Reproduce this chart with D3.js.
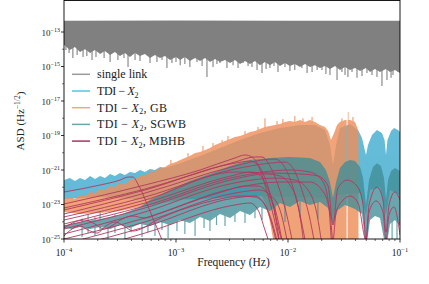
<!DOCTYPE html>
<html><head><meta charset="utf-8">
<script src="https://cdn.jsdelivr.net/npm/d3@7"></script>
<style>body{margin:0;background:#fff}svg{display:block}text{font-family:"Liberation Serif",serif;fill:#222}</style>
</head><body><svg id="c" width="429" height="284"></svg>
<script>
// ---------------- data (frequency in Hz, ASD in Hz^-1/2) ----------------
const xTicks = [1e-4, 1e-3, 1e-2, 1e-1];
const xTickExp = ["−4", "−3", "−2", "−1"];
const yTicks = [1e-25, 1e-23, 1e-21, 1e-19, 1e-17, 1e-15, 1e-13];
const yTickExp = ["−25", "−23", "−21", "−19", "−17", "−15", "−13"];
const legendLabels = ["single link", "TDI−X2", "TDI−X2, GB", "TDI−X2, SGWB", "TDI−X2, MBHB"];

const grayUpper = [[1e-4,4.5e-13],[1e-3,4.6e-13],[1e-2,4.5e-13],[1e-1,4.5e-13]];
const grayLower = [[1e-4,1.8e-14],[1.13e-4,9.1e-15],[1.25e-4,1.35e-14],[1.39e-4,6.9e-15],[1.54e-4,1e-14],[1.71e-4,6.1e-15],[1.89e-4,9.1e-15],[2.1e-4,5.3e-15],[2.32e-4,7.9e-15],[2.58e-4,4.6e-15],[2.85e-4,6.9e-15],[3.16e-4,4.1e-15],[3.5e-4,6.1e-15],[3.88e-4,3.6e-15],[4.31e-4,6.1e-15],[4.77e-4,4.1e-15],[5.28e-4,5.3e-15],[5.86e-4,3.1e-15],[6.49e-4,4.6e-15],[7.2e-4,3.1e-15],[7.98e-4,4.1e-15],[8.84e-4,2.4e-15],[1e-3,3.6e-15],[1.09e-3,2.4e-15],[1.2e-3,3.6e-15],[1.33e-3,2.1e-15],[1.48e-3,3.1e-15],[1.64e-3,2.1e-15],[1.82e-3,3.1e-15],[2.01e-3,1.8e-15],[2.23e-3,2.7e-15],[2.47e-3,1.8e-15],[2.74e-3,2.4e-15],[3.04e-3,1.6e-15],[3.36e-3,2.4e-15],[3.73e-3,1.4e-15],[4.13e-3,2.1e-15],[4.58e-3,1.4e-15],[5.07e-3,2.1e-15],[5.62e-3,1.2e-15],[6.23e-3,1.8e-15],[6.9e-3,1.2e-15],[7.65e-3,1.8e-15],[8.48e-3,1.07e-15],[9.4e-3,1.6e-15],[1.04e-2,1.07e-15],[1.15e-2,1.4e-15],[1.28e-2,9.4e-16],[1.42e-2,1.4e-15],[1.57e-2,9.4e-16],[1.74e-2,1.2e-15],[1.93e-2,8.2e-16],[2.14e-2,1.07e-15],[2.37e-2,7.2e-16],[2.63e-2,1.07e-15],[2.91e-2,6.3e-16],[3.23e-2,9.4e-16],[3.58e-2,6.3e-16],[3.97e-2,8.2e-16],[4.4e-2,5.5e-16],[4.97e-2,8.2e-16],[5.4e-2,4.8e-16],[5.98e-2,7.2e-16],[6.63e-2,4.8e-16],[7.5e-2,7.2e-16],[8.14e-2,4.8e-16],[9.02e-2,6.3e-16],[1e-1,4.2e-16]];
const grayDips = [[1.04e-4,9.1e-15],[1.11e-4,6.1e-15],[1.2e-4,3.1e-15],[1.31e-4,4.6e-15],[1.48e-4,3.6e-15],[1.6e-4,4.1e-15],[1.78e-4,2.4e-15],[1.93e-4,3.6e-15],[2.28e-4,3.1e-15],[2.58e-4,1.8e-15],[3.03e-4,2.4e-15],[3.43e-4,3.1e-15],[3.73e-4,9.4e-16],[4.31e-4,2.4e-15],[4.77e-4,2.1e-15],[5.86e-4,1.6e-15],[6.76e-4,1.8e-15],[7.5e-4,2.4e-15],[8.3e-4,8.2e-16],[9.2e-4,1.6e-15],[1e-3,1.8e-15],[1.09e-3,1.2e-15],[1.2e-3,1.4e-15],[1.33e-3,9.4e-16],[1.54e-3,1.8e-15],[1.71e-3,1.07e-15],[1.89e-3,2.5e-16],[2.14e-3,9.4e-16],[2.32e-3,1.4e-15],[2.47e-3,1.6e-15],[2.85e-3,8.2e-16],[3.23e-3,1.2e-15],[3.58e-3,8.2e-16],[3.97e-3,1.6e-15],[4.4e-3,1.07e-15],[4.77e-3,9.4e-16],[5.29e-3,6.3e-16],[5.86e-3,4.2e-16],[6.37e-3,7.2e-16],[6.9e-3,8.2e-16],[7.5e-3,1.07e-15],[8.14e-3,4.8e-16],[9.4e-3,9.4e-16],[1.04e-2,5.5e-16],[1.15e-2,6.3e-16],[1.33e-2,8.2e-16],[1.48e-2,4.2e-16],[1.64e-2,4.8e-16],[1.82e-2,6.3e-16],[2.01e-2,6.3e-16],[2.18e-2,3.7e-16],[2.37e-2,3.2e-16],[2.74e-2,1.65e-16],[3.03e-2,4.8e-16],[3.23e-2,3.2e-16],[3.43e-2,2.5e-16],[3.73e-2,4.8e-16],[4.13e-2,2.2e-16],[4.58e-2,2.8e-16],[5.07e-2,4.2e-16],[5.62e-2,3.2e-16],[6.23e-2,2.5e-16],[6.9e-2,7.4e-17],[7.65e-2,1.65e-16],[8.32e-2,2.2e-16],[8.66e-2,3.2e-16],[9.6e-2,4.8e-16]];

const tdiUpper = [[1e-4,2.6e-22],[1.13e-4,3.4e-22],[1.25e-4,2.3e-22],[1.39e-4,3.4e-22],[1.54e-4,2.6e-22],[1.71e-4,4.5e-22],[1.89e-4,3.0e-22],[2.1e-4,4.5e-22],[2.32e-4,3.4e-22],[2.58e-4,5.9e-22],[2.85e-4,4.5e-22],[3.16e-4,6.7e-22],[3.5e-4,5.1e-22],[3.88e-4,7.6e-22],[4.31e-4,6.7e-22],[4.77e-4,1e-21],[5.28e-4,7.6e-22],[5.86e-4,1.14e-21],[6.49e-4,1e-21],[7.2e-4,1.5e-21],[7.98e-4,1.3e-21],[1.09e-3,2.5e-21],[1.64e-3,6.5e-21],[2.47e-3,1.9e-20],[3.73e-3,5.5e-20],[5.62e-3,1.4e-19],[8.48e-3,2.7e-19],[1.28e-2,4.1e-19],[1.74e-2,4.1e-19],[2.14e-2,2.1e-19],[2.37e-2,2.8e-20],[2.52e-2,1.95e-21],[2.69e-2,2.8e-20],[2.91e-2,2.7e-19],[3.58e-2,4.6e-19],[4.22e-2,2.1e-19],[4.58e-2,7.2e-20],[4.97e-2,7.4e-21],[5.18e-2,2.8e-20],[5.62e-2,1.07e-19],[6.23e-2,2.1e-19],[6.9e-2,1.4e-19],[7.28e-2,5.5e-20],[7.5e-2,7.4e-21],[7.73e-2,5.5e-20],[8.32e-2,1.82e-19],[8.84e-2,2.7e-19],[9.6e-2,2.1e-19],[1e-1,1.6e-19]];
const tdiLower = [[1e-4,2.1e-23],[2.1e-4,2.7e-23],[5.86e-4,1.8e-23],[1.64e-3,2.1e-23],[4.58e-3,3.1e-23],[1.28e-2,2.7e-23],[2.28e-2,2.4e-23],[2.52e-2,2.5e-24],[2.79e-2,3.6e-23],[4.4e-2,4.6e-23],[4.97e-2,2.5e-24],[5.4e-2,6.9e-23],[6.63e-2,1e-22],[7.5e-2,2.5e-24],[8.14e-2,6.9e-23],[1e-1,3.6e-23]];

const gbUpper = [[1e-4,2.1e-23],[1.13e-4,2.7e-23],[1.25e-4,2.1e-23],[1.39e-4,3.6e-23],[1.54e-4,3.1e-23],[1.71e-4,5.3e-23],[1.89e-4,4.6e-23],[2.1e-4,7.9e-23],[2.32e-4,6.9e-23],[2.58e-4,1.18e-22],[2.85e-4,1e-22],[3.16e-4,1.8e-22],[3.5e-4,1.5e-22],[3.88e-4,2.6e-22],[4.31e-4,3.0e-22],[4.77e-4,4.5e-22],[5.28e-4,5.1e-22],[5.86e-4,6.7e-22],[6.49e-4,8.7e-22],[7.2e-4,1.3e-21],[7.98e-4,1.5e-21],[8.84e-4,2.2e-21],[1e-3,2.9e-21],[1.09e-3,3.8e-21],[1.2e-3,5e-21],[1.33e-3,6.5e-21],[1.48e-3,9.7e-21],[1.64e-3,1.1e-20],[1.82e-3,1.44e-20],[2.01e-3,1.9e-20],[2.23e-3,2.8e-20],[2.47e-3,3.7e-20],[2.74e-3,4.8e-20],[3.04e-3,6.3e-20],[3.36e-3,8.2e-20],[3.73e-3,9.4e-20],[4.13e-3,1.2e-19],[4.58e-3,1.6e-19],[5.07e-3,1.82e-19],[5.62e-3,2.4e-19],[6.23e-3,3.1e-19],[6.9e-3,3.6e-19],[7.65e-3,4.1e-19],[8.48e-3,4.6e-19],[9.4e-3,6e-19],[1.04e-2,6.9e-19],[1.15e-2,6e-19],[1.28e-2,7.9e-19],[1.42e-2,6e-19],[1.57e-2,7.9e-19],[1.74e-2,6e-19],[1.93e-2,4.1e-19],[2.14e-2,3.1e-19],[2.28e-2,1.82e-19],[2.42e-2,5.5e-20],[2.58e-2,1.4e-19],[2.74e-2,4.1e-19],[2.91e-2,6e-19],[3.23e-2,7.9e-19],[3.58e-2,7.9e-19],[3.97e-2,6e-19],[4.13e-2,3.1e-19],[4.26e-2,1.6e-19]];
const gbLower = [[1e-4,3.7e-24],[1.39e-4,2.8e-24],[2.1e-4,3.2e-24],[3.16e-4,4.2e-24],[5.86e-4,9.4e-24],[1.09e-3,1.8e-23],[2.01e-3,4.6e-23],[3.73e-3,1.35e-22],[5.62e-3,5.3e-23],[6.37e-3,9.4e-24],[6.9e-3,9.7e-25],[7.65e-3,2.3e-26],[4.26e-2,2.3e-26]];
const gbSpikes = [[5.86e-4,1e-21],[9.0e-4,3.8e-21],[1.28e-3,9.7e-21],[1.74e-3,2.5e-20],[2.14e-3,3.7e-20],[2.58e-3,5.5e-20],[2.91e-3,9.4e-20],[4.13e-3,1.82e-19],[5.4e-3,3.1e-19],[6.23e-3,1e-18],[7.98e-3,6.9e-19],[9.0e-3,9.1e-19],[1.15e-2,1.35e-18],[1.36e-2,1e-18],[1.64e-2,1.18e-18],[3.03e-2,1e-18],[3.43e-2,2.3e-18],[3.8e-2,1.18e-18]];
const gbGapFreq = [3.37e-2];

const sgwbUpper = [[1e-4,5.7e-25],[1.39e-4,9.7e-25],[2.1e-4,1.44e-24],[3.16e-4,2.5e-24],[4.77e-4,7.2e-24],[5.86e-4,1.8e-23],[8.84e-4,6.9e-23],[1.33e-3,2.3e-22],[2.01e-3,5.9e-22],[3.04e-3,1.7e-21],[4.58e-3,3.8e-21],[6.9e-3,5e-21],[1.04e-2,5.7e-21],[1.57e-2,5e-21],[1.93e-2,2.9e-21],[2.18e-2,1e-21],[2.37e-2,2e-22],[2.52e-2,2.4e-23],[2.69e-2,2e-22],[2.91e-2,1.3e-21],[3.23e-2,2.9e-21],[3.58e-2,3.8e-21],[3.97e-2,3.3e-21],[4.4e-2,1.5e-21],[4.68e-2,3.4e-22],[4.97e-2,9.4e-24],[5.29e-2,2.6e-22],[5.74e-2,1.5e-21],[6.23e-2,2.5e-21],[6.76e-2,1.7e-21],[7.2e-2,3.4e-22],[7.5e-2,1.8e-23],[7.82e-2,2.6e-22],[8.32e-2,8.7e-22],[9.02e-2,1.3e-21],[1e-1,8.7e-22]];
const sgwbLower = [[1e-4,4.3e-25],[1.18e-4,3.8e-25],[1.39e-4,5e-25],[1.71e-4,3.8e-25],[2.1e-4,5e-25],[2.58e-4,3.8e-25],[3.16e-4,6.5e-25],[3.88e-4,4.3e-25],[4.77e-4,7.4e-25],[5.86e-4,5.7e-25],[7.2e-4,9.7e-25],[8.84e-4,6.5e-25],[1.09e-3,1.26e-24],[1.33e-3,8.5e-25],[1.64e-3,1.9e-24],[2.01e-3,1.1e-24],[2.47e-3,2.8e-24],[3.04e-3,1.65e-24],[3.73e-3,4.2e-24],[4.58e-3,2.5e-24],[5.62e-3,7.2e-24],[6.9e-3,4.2e-24],[8.48e-3,1.22e-23],[1.04e-2,7.2e-24],[1.28e-2,1.6e-23],[1.57e-2,9.4e-24],[1.93e-2,1.4e-23],[2.28e-2,6.3e-24],[2.52e-2,6.5e-25],[2.79e-2,4.8e-24],[3.23e-2,9.4e-24],[3.97e-2,5.5e-24],[4.58e-2,2.8e-24],[4.97e-2,2.3e-26],[5.4e-2,1.26e-24],[5.98e-2,2.15e-24],[6.63e-2,1.65e-24],[7.5e-2,2.3e-26],[8.14e-2,7.4e-25],[9.02e-2,1.26e-24],[1e-1,5.7e-25]];
const sgwbDips = [[1.45e-4,1.3e-25],[1.64e-4,2.2e-25],[1.89e-4,1.5e-25],[2.1e-4,2.9e-25],[2.47e-4,1e-25],[2.85e-4,2.2e-25],[3.5e-4,1e-25],[3.97e-4,2.5e-25],[4.97e-4,1.3e-25],[5.62e-4,2.5e-25],[6.49e-4,1.5e-25],[7.5e-4,3.3e-25],[8.5e-4,1.14e-25],[1.02e-3,2.9e-25],[1.2e-3,1.95e-25],[1.48e-3,1.5e-25],[1.78e-3,4.3e-25],[2.01e-3,2.9e-25],[2.3e-3,6.5e-25],[2.74e-3,5.7e-25],[3.36e-3,9.7e-25],[4.13e-3,8.5e-25],[5.07e-3,1.6e-24],[5.86e-3,1.26e-24],[7.65e-3,2.5e-24],[9.4e-3,9.7e-25],[1.28e-2,1.65e-24],[1.85e-2,1.44e-24],[8.5e-2,1e-25],[9.4e-2,1e-25]];

const mbhbTracks = [
 [[1e-4,5.3e-23],[2.1e-4,1.35e-22],[3.16e-4,2.6e-22],[3.73e-4,3.9e-22],[4.13e-4,3.9e-22],[4.58e-4,1.5e-22],[5.28e-4,2.1e-23],[6.1e-4,2.15e-24],[6.9e-4,3.3e-25],[7.82e-4,4.5e-26]],
 [[1e-4,1.07e-23],[5.28e-4,1.35e-22],[1.64e-3,1e-21],[3.36e-3,5e-21],[4.13e-3,7.4e-21],[4.77e-3,5.7e-21],[5.51e-3,1.5e-21],[6.23e-3,1.35e-22],[7.2e-3,4.8e-24],[8.48e-3,4.5e-26]],
 [[1e-4,6.3e-24],[5.28e-4,7.9e-23],[3.36e-3,2.9e-21],[5.07e-3,5.7e-21],[5.86e-3,5.7e-21],[6.9e-3,1.7e-21],[8.14e-3,1.35e-22],[9.6e-3,3.7e-24],[1.11e-2,4.5e-26]],
 [[1e-4,4.8e-24],[5.28e-4,6.9e-23],[3.36e-3,2.5e-21],[4.58e-3,3.3e-21],[5.4e-3,1.95e-21],[6.23e-3,3.4e-22],[7.2e-3,1.8e-23],[8.3e-3,3.3e-25],[9e-3,4.5e-26]],
 [[1e-4,2.8e-24],[5.28e-4,4.6e-23],[3.36e-3,1.7e-21],[5.86e-3,3.8e-21],[7.65e-3,4.3e-21],[9.2e-3,1.7e-21],[1.09e-2,1.35e-22],[1.25e-2,4.8e-24],[1.45e-2,4.5e-26]],
 [[1e-4,1.9e-24],[5.28e-4,2.7e-23],[3.36e-3,1.14e-21],[6.9e-3,2.5e-21],[9.4e-3,2.9e-21],[1.13e-2,1e-21],[1.33e-2,6.9e-23],[1.54e-2,2.5e-24],[1.74e-2,4.5e-26]],
 [[1e-4,1.26e-24],[5.28e-4,1.8e-23],[3.36e-3,7.6e-22],[6.9e-3,6.7e-22],[1.28e-2,5.9e-22],[1.85e-2,4.5e-22],[2.28e-2,1.18e-22],[2.52e-2,6.5e-25],[2.79e-2,9e-23],[3.37e-2,2.6e-22],[4.13e-2,1.18e-22],[4.68e-2,9.4e-24],[4.97e-2,8.8e-26],[5.29e-2,9.4e-24],[6.23e-2,1e-22],[7.05e-2,1.8e-23],[7.5e-2,2.5e-25],[7.98e-2,9.4e-24],[9.02e-2,5.3e-23],[1e-1,1.8e-23]],
 [[1e-4,7.4e-25],[5.28e-4,1.22e-23],[3.36e-3,5.1e-22],[4.58e-3,7.6e-22],[5.4e-3,5.9e-22],[6.37e-3,1.35e-22],[7.34e-3,9.4e-24],[8.48e-3,4.5e-26]],
 [[1e-4,5.7e-25],[5.28e-4,8.2e-24],[3.36e-3,3.9e-22],[1.04e-2,1e-21],[1.57e-2,7.6e-22],[2.01e-2,2.6e-22],[2.28e-2,1.8e-23],[2.45e-2,4.5e-26]],
 [[1e-4,3.8e-25],[5.28e-4,6.3e-24],[3.36e-3,3e-22],[6.23e-3,5.9e-22],[8.48e-3,4.5e-22],[1.04e-2,1.35e-22],[1.23e-2,9.4e-24],[1.39e-2,4.5e-26]],
 [[1e-4,1.95e-25],[5.28e-4,3.7e-24],[3.36e-3,1.8e-22],[7.65e-3,3.4e-22],[1.15e-2,2.6e-22],[1.51e-2,6.9e-23],[1.78e-2,4.8e-24],[2.01e-2,4.5e-26]],
 [[1e-4,1e-25],[5.28e-4,1.65e-24],[3.36e-3,9e-23],[8.48e-3,2e-22],[1.57e-2,2e-22],[2.01e-2,6.9e-23],[2.37e-2,3.7e-24],[2.52e-2,8.8e-26],[2.69e-2,3.7e-24],[3.1e-2,1.8e-23],[3.58e-2,3.1e-23],[4.22e-2,1.22e-23],[4.97e-2,8.8e-26],[5.29e-2,3.7e-24],[6.11e-2,1.6e-23],[7.05e-2,3.7e-24],[7.5e-2,8.8e-26],[7.98e-2,2.5e-24],[8.84e-2,7.2e-24],[1e-1,1.7e-25]],
 [[1e-4,5.1e-26],[5.28e-4,9.7e-25],[3.36e-3,4.6e-23],[5.62e-3,6.9e-23],[6.9e-3,3.6e-23],[8.48e-3,4.8e-24],[1e-2,4.5e-26]],
 [[1e-4,2.6e-26],[5.28e-4,5e-25],[3.36e-3,2.4e-23],[5.07e-3,3.1e-23],[6.23e-3,9.4e-24],[7.2e-3,6.5e-25],[7.98e-3,4.5e-26]],
 [[1e-4,1e-26],[5.28e-4,2.2e-25],[3.36e-3,9.4e-24],[4.58e-3,1.22e-23],[5.4e-3,4.8e-24],[6.23e-3,3.3e-25],[6.9e-3,4.5e-26]],
 [[1e-4,1.5e-25],[1.18e-4,3.8e-25],[1.39e-4,5.7e-25],[1.64e-4,3.3e-25],[1.97e-4,2.2e-25],[2.37e-4,5.7e-25],[2.85e-4,9.7e-25],[3.43e-4,5.7e-25],[4.13e-4,2.9e-25],[5.07e-4,4.3e-25],[6.49e-4,1.1e-24],[8.84e-4,2.8e-24],[1.33e-3,7.2e-24],[2.23e-3,1.8e-23],[3.73e-3,3.1e-23],[5.07e-3,2.7e-23],[6.23e-3,9.4e-24],[7.2e-3,9.7e-25],[8.14e-3,4.5e-26]],
 [[1e-4,4.3e-25],[1.25e-4,9.7e-25],[1.54e-4,1.26e-24],[1.89e-4,7.4e-25],[2.28e-4,3.8e-25],[2.74e-4,6.5e-25],[3.3e-4,1.44e-24],[4.05e-4,2.15e-24],[5.28e-4,1.65e-24],[6.9e-4,2.8e-24],[9.8e-4,6.3e-24],[1.64e-3,2.1e-23],[2.74e-3,6.1e-23],[4.13e-3,1.18e-22],[5.4e-3,1.18e-22],[6.62e-3,4.1e-23],[7.8e-3,3.7e-24],[9e-3,4.5e-26]]
];

// ---------------- drawing ----------------
const L = 64, R = 400, T = 0.5, B = 239;
const x = d3.scaleLog().domain([1e-4, 1e-1]).range([L, R]);
const y = d3.scaleLog().domain([1e-25, 1e-13]).range([239, 32]);
const svg = d3.select('#c');
const defs = svg.append('defs');
defs.append('clipPath').attr('id', 'clip').append('rect').attr('x', L).attr('y', T).attr('width', R - L).attr('height', B - T);
const gcp = defs.append('clipPath').attr('id', 'gbclip');
const gapX = x(gbGapFreq[0]);
gcp.append('rect').attr('x', L).attr('y', T).attr('width', gapX - 0.5 - L).attr('height', B - T);
gcp.append('rect').attr('x', gapX + 0.6).attr('y', T).attr('width', R - gapX).attr('height', B - T);

const plot = svg.append('g').attr('clip-path', 'url(#clip)');
const line = d3.line().x(d => x(d[0])).y(d => y(d[1]));
const band = (up, lo) => line(up) + line(lo.slice().reverse()).replace(/^M/, 'L') + 'Z';

const C = {gray: '#808080', tdi: '#64BCD8', gb: '#EE8F5C', sgwb: '#3F8D96', mbhb: '#B2385F'};

// single link
const gGray = plot.append('g');
gGray.append('path').attr('d', band(grayUpper, grayLower)).attr('fill', C.gray);
gGray.selectAll('line').data(grayDips).join('line')
  .attr('x1', d => x(d[0])).attr('x2', d => x(d[0]))
  .attr('y1', d => y(d[1] * 20)).attr('y2', d => y(d[1]))
  .attr('stroke', C.gray).attr('stroke-width', 1.1);

// TDI-X2
plot.append('path').attr('d', band(tdiUpper, tdiLower)).attr('fill', C.tdi);

// GB
const gGB = plot.append('g').attr('opacity', 0.82).attr('clip-path', 'url(#gbclip)');
gGB.append('path').attr('d', band(gbUpper, gbLower)).attr('fill', C.gb);
gGB.selectAll('line').data(gbSpikes).join('line')
  .attr('x1', d => x(d[0])).attr('x2', d => x(d[0]))
  .attr('y1', d => y(d[1])).attr('y2', d => y(d[1] / 30))
  .attr('stroke', C.gb).attr('stroke-width', 1.2);

// SGWB
const gSG = plot.append('g').attr('opacity', 0.78);
gSG.append('path').attr('d', band(sgwbUpper, sgwbLower)).attr('fill', C.sgwb);
gSG.selectAll('line').data(sgwbDips).join('line')
  .attr('x1', d => x(d[0])).attr('x2', d => x(d[0]))
  .attr('y1', d => y(d[1])).attr('y2', d => y(d[1] * 12))
  .attr('stroke', C.sgwb).attr('stroke-width', 1.2);

// MBHB
const curve = d3.line().x(d => x(d[0])).y(d => y(d[1])).curve(d3.curveMonotoneX);
plot.append('g').selectAll('path').data(mbhbTracks).join('path')
  .attr('d', curve).attr('fill', 'none').attr('stroke', C.mbhb).attr('stroke-width', 1).attr('stroke-opacity', 0.9);

// axes frame
svg.append('rect').attr('x', L).attr('y', T).attr('width', R - L).attr('height', B - T)
  .attr('fill', 'none').attr('stroke', '#000').attr('stroke-width', 0.9);

// x ticks
const ax = svg.append('g');
xTicks.forEach((t, i) => {
  ax.append('line').attr('x1', x(t)).attr('x2', x(t)).attr('y1', B).attr('y2', B + 3.5).attr('stroke', '#000').attr('stroke-width', 0.8);
  const tx = ax.append('text').attr('x', x(t)).attr('y', 255.5).attr('text-anchor', 'middle').attr('font-size', 9.5);
  tx.append('tspan').text('10');
  tx.append('tspan').attr('dy', -4).attr('font-size', 6.5).text(xTickExp[i]);
  if (i < xTicks.length - 1) {
    for (let k = 2; k <= 9; k++) {
      const v = t * k;
      ax.append('line').attr('x1', x(v)).attr('x2', x(v)).attr('y1', B).attr('y2', B + 2).attr('stroke', '#000').attr('stroke-width', 0.6);
    }
  }
});
// y ticks
yTicks.forEach((t, i) => {
  ax.append('line').attr('x1', L - 3).attr('x2', L).attr('y1', y(t)).attr('y2', y(t)).attr('stroke', '#000').attr('stroke-width', 0.8);
  const tx = ax.append('text').attr('x', 60).attr('y', y(t) + 3.5).attr('text-anchor', 'end').attr('font-size', 9);
  tx.append('tspan').text('10');
  tx.append('tspan').attr('dy', -4).attr('font-size', 6).text(yTickExp[i]);
  if (i < yTicks.length - 1) {
    const m = t * 10;
    ax.append('line').attr('x1', L - 1.8).attr('x2', L).attr('y1', y(m)).attr('y2', y(m)).attr('stroke', '#000').attr('stroke-width', 0.6);
  }
});

// axis labels
svg.append('text').attr('x', 233.5).attr('y', 266).attr('text-anchor', 'middle').attr('font-size', 11.5).text('Frequency (Hz)');
const yl = svg.append('text').attr('transform', 'translate(24,121) rotate(-90)').attr('text-anchor', 'middle').attr('font-size', 11);
yl.append('tspan').text('ASD (Hz');
yl.append('tspan').attr('dy', -4).attr('font-size', 7.5).text('−1/2');
yl.append('tspan').attr('dy', 4).text(')');

// legend
const legColors = ['#9a9a9a', '#5BC3E2', '#F4A582', '#6AA4AC', '#A8345A'];
const legWidths = [null, 41.5, 70, 89, 88];
legendLabels.forEach((lab, i) => {
  const yy = 74.3 + i * 16.7;
  svg.append('line').attr('x1', 72).attr('x2', 90).attr('y1', yy).attr('y2', yy).attr('stroke', legColors[i]).attr('stroke-width', 1.5);
  const t = svg.append('text').attr('x', 97).attr('y', yy + 4).attr('font-size', 12);
  if (i === 0) { t.text(lab); return; }
  t.attr('textLength', legWidths[i]).attr('lengthAdjust', 'spacing');
  t.append('tspan').text('TDI − ');
  t.append('tspan').attr('font-style', 'italic').text('X');
  t.append('tspan').attr('dy', 2.5).attr('font-size', 8).text('2');
  const rest = lab.slice(6);
  if (rest) t.append('tspan').attr('dy', -2.5).text(rest);
});
</script></body></html>
